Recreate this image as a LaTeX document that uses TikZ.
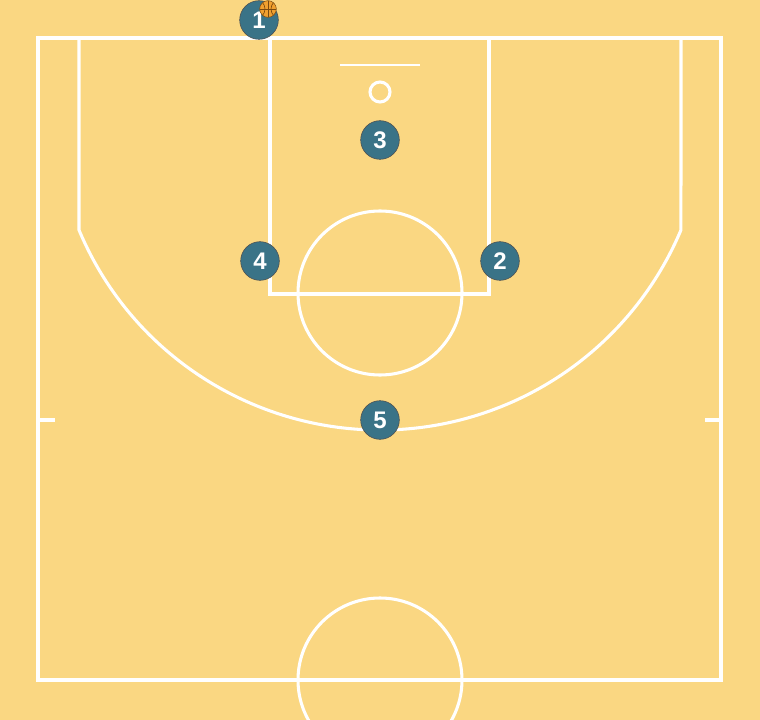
\documentclass[tikz,border=0pt]{standalone}
\usepackage{fontspec}
\setmainfont{Liberation Sans}
\definecolor{court}{HTML}{FAD782}
\definecolor{player}{HTML}{3A7387}
\definecolor{ballc}{HTML}{F0A030}
\definecolor{seam}{HTML}{7A4A10}
\tikzset{
  courtline/.style={draw=white, line width=2.3pt},
  thinline/.style={draw=white, line width=1pt},
  playernode/.style={circle, fill=player, draw=black!70, line width=0.4pt, minimum size=29pt, inner sep=0pt, text=white, font=\fontsize{18}{18}\selectfont\bfseries},
}
\begin{document}
\begin{tikzpicture}[x=0.75pt, y=-0.75pt]
\useasboundingbox (0,0) rectangle (760,720);
\fill[court] (0,0) rectangle (760,720);
\begin{scope}
\clip (0,0) rectangle (760,720);
% outer lines
\draw[courtline] (38,38) rectangle (721,680);
% three point line
\draw[courtline] (79,38) -- (79,230) arc[start angle=157.2, end angle=22.8, radius=326.5] -- (681,38);
% lane
\draw[courtline] (270,38) -- (270,294) -- (489,294) -- (489,38);
% free throw circle
\draw[courtline] (380,293) circle[radius=82];
% backboard and rim
\draw[thinline] (340,65) -- (420,65);
\draw[courtline] (380,92) circle[radius=10];
% ticks
\draw[courtline] (38,420) -- (55,420);
\draw[courtline] (705,420) -- (721,420);
% center circle
\draw[courtline] (380,680) circle[radius=82];
\end{scope}
% players
\node[playernode] (p1) at (259,20) {1};
\node[playernode] (p3) at (380,140) {3};
\node[playernode] (p4) at (260,261) {4};
\node[playernode] (p2) at (500,261) {2};
\node[playernode] (p5) at (380,420) {5};
% ball
\node[circle, fill=ballc, draw=seam, line width=0.4pt, minimum size=12.5pt, inner sep=0pt] (ball) at (268,9) {};
\begin{scope}
\clip (268,9) circle[radius=8.3];
\draw[seam, line width=0.5pt] (260,9) -- (276,9);
\draw[seam, line width=0.5pt] (268,1) -- (268,17);
\draw[seam, line width=0.5pt] (262,2) .. controls (266,6) and (266,12) .. (262,16);
\draw[seam, line width=0.5pt] (274,2) .. controls (270,6) and (270,12) .. (274,16);
\end{scope}
\end{tikzpicture}
\end{document}
